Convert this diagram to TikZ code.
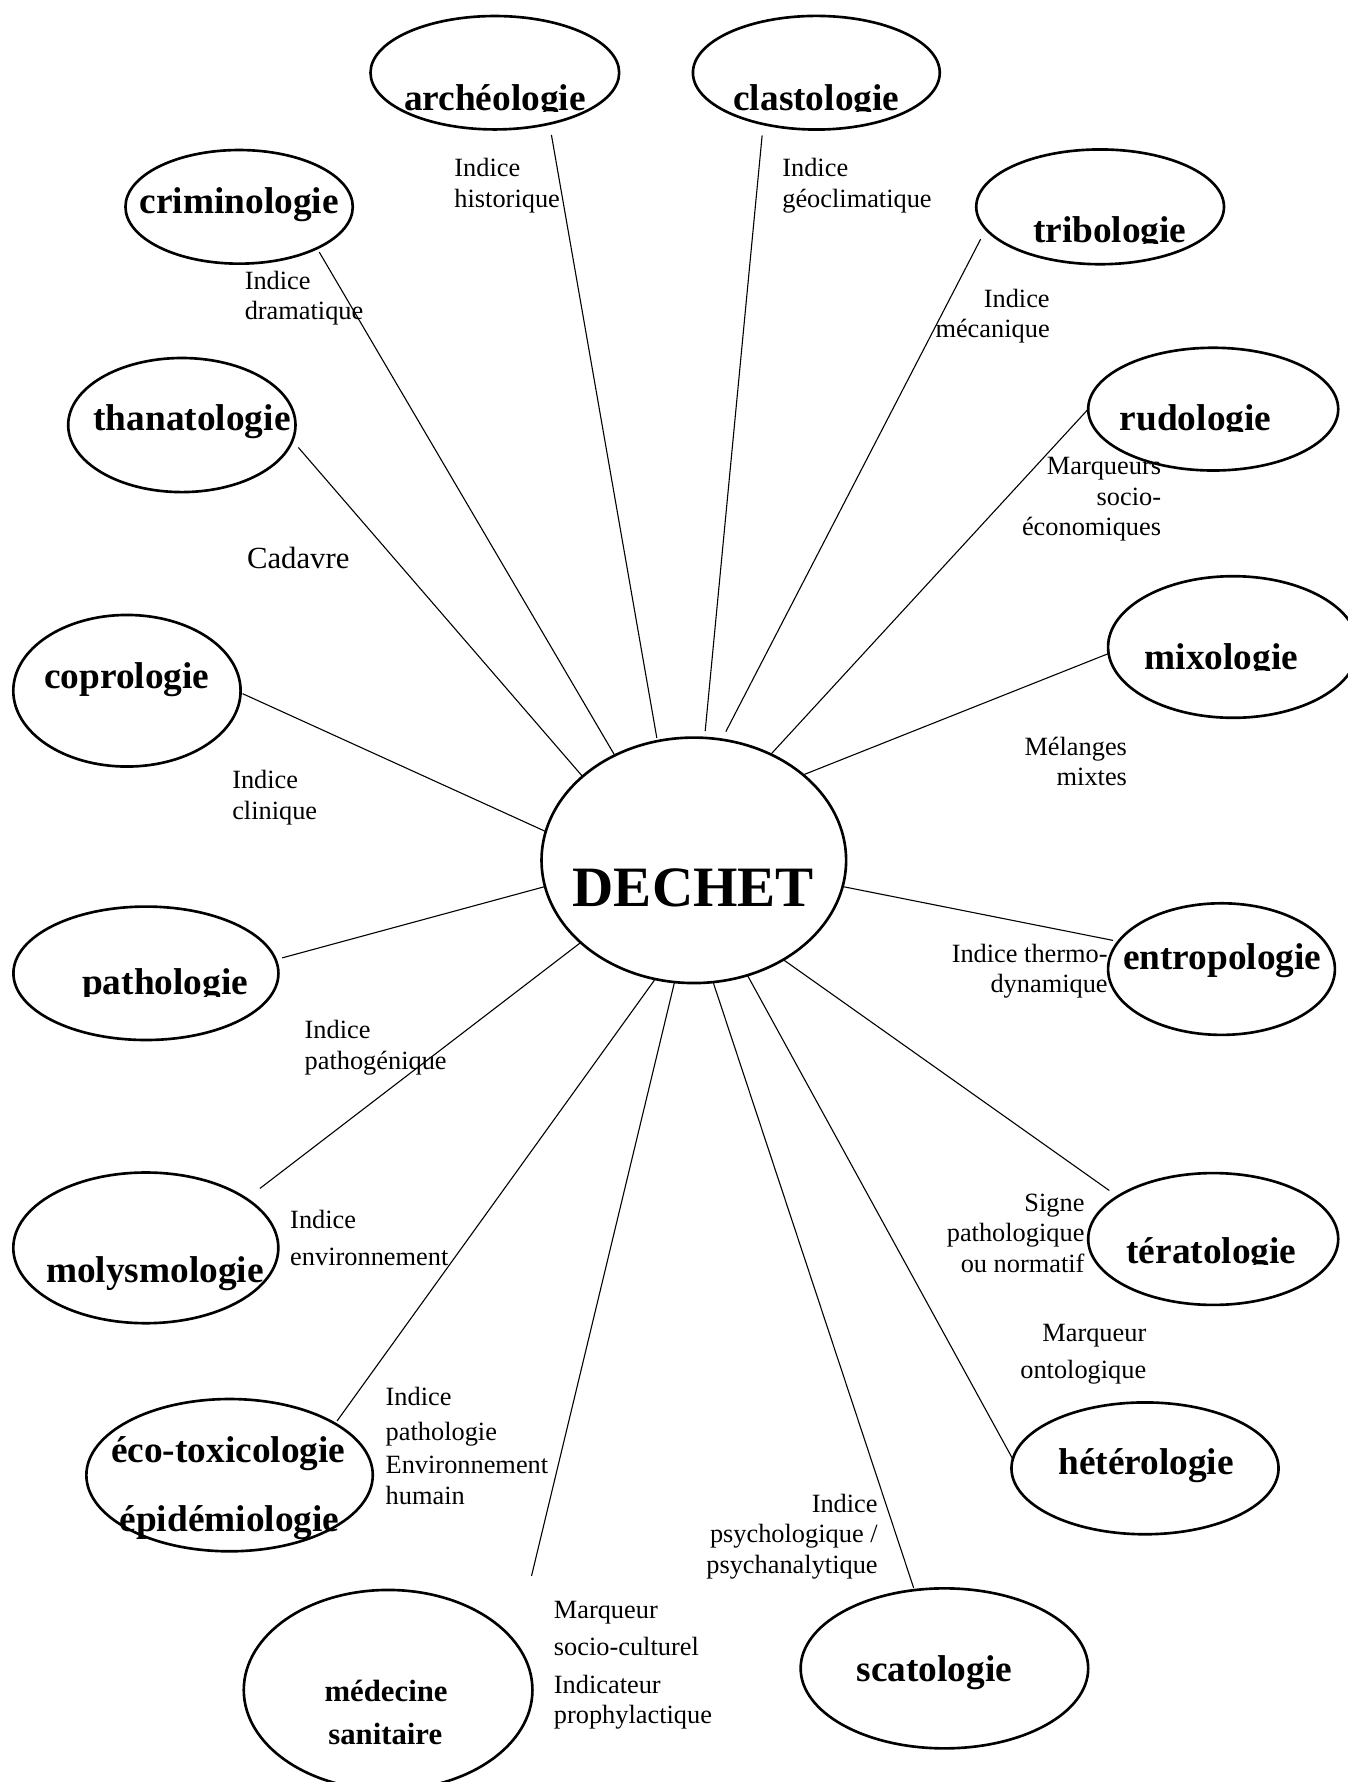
\documentclass[tikz,border=0pt]{standalone}
\usepackage{fontspec}
\setmainfont{Liberation Serif}
\usetikzlibrary{shapes.geometric}
\begin{document}
\begin{tikzpicture}[x=0.018186cm,y=-0.018186cm]
    \def\px{0.018186cm}
    \tikzset{
        field/.style 2 args={ellipse,draw,line width=1.2pt,inner sep=0pt,outer sep=0pt,
            minimum width=2*#1*\px,minimum height=2*#2*\px},
        fieldname/.style={font=\fontsize{17}{20}\selectfont\bfseries,inner sep=0pt},
        note/.style={font=\fontsize{12}{14}\selectfont,inner sep=0pt},
        link/.style={line width=0.5pt},}
    \useasboundingbox (0,0) rectangle (1186,1568);
    % ellipses: name / centre / radii
    \foreach \n/\x/\y/\a/\b in {arch/435.4/64/109.4/49.9, clas/718.3/64/108.6/50,
        crim/210.4/182/100/50, trib/968/182/109/50.5, than/160/374/100/59,
        rudo/1067.5/360/110/54, copr/111.7/607.8/100/66.7, mixo/1085/569.3/110/62.3,
        path/128.4/856.4/116.6/58.7, entr/1074.8/852.7/99.8/57.9,
        moly/128.3/1098/116.6/66.3, tera/1067.5/1090.2/110/58,
        hete/1007.5/1292/117.5/58, ecot/202/1298/126/67,
        scat/831/1468/126.5/70.4, mede/341.5/1487/127/88}
        \node[field={\a}{\b}] (\n) at (\x,\y) {};
    \node[field={134}{108}] (dechet) at (610.5,757) {};
    % names, some cut at the baseline
    \foreach \n/\x/\y/\c/\w in {arch/435.5/96.8/1/archéologie, clas/718.3/96.8/1/clastologie,
        crim/210.4/188/40/criminologie, trib/976.5/213.4/1/tribologie,
        than/169/379.2/40/thanatologie, rudo/1052/379/1/rudologie,
        copr/111.5/606.2/40/coprologie, mixo/1074.8/588.8/1/mixologie,
        path/145.3/875.4/1/pathologie, entr/1075.5/853.4/40/entropologie,
        moly/136.4/1128.5/40/molysmologie, tera/1066/1111.5/1/tératologie,
        hete/1008.4/1297.8/40/hétérologie, scat/822.2/1479.6/40/scatologie}{
        \begin{scope}
            \clip (\x-140,\y-45) rectangle (\x+140,\y+\c);
            \node[fieldname,anchor=base] (\n-t) at (\x,\y) {\w};
        \end{scope}}
    \node[fieldname,anchor=base] (ecot-t) at (200.8,1287) {éco-toxicologie};
    \node[fieldname,anchor=base] (ecot-u) at (202,1347.6) {épidémiologie};
    \node[fieldname,anchor=base,font=\fontsize{14}{17}\selectfont\bfseries] (mede-t) at (339.7,1497.2) {médecine};
    \begin{scope}
        \clip (200,1500) rectangle (480,1535.8);
        \node[fieldname,anchor=base,font=\fontsize{14}{17}\selectfont\bfseries] (mede-u) at (339,1535.3) {sanitaire};
    \end{scope}
    \node[anchor=base,inner sep=0pt,font=\fontsize{26}{30}\selectfont\bfseries] (dechet-t) at (610,797.7) {DECHET};
    % notes along the links
    \node[note,anchor=north west,align=left] (hist) at (399.5,139) {Indice\\historique};
    \node[note,anchor=north west,align=left] (geo) at (688,139) {Indice\\géoclimatique};
    \node[note,anchor=north west,align=left] (dram) at (215,238) {Indice\\dramatique};
    \node[note,anchor=north east,align=right] (meca) at (924,253.7) {Indice\\mécanique};
    \node[note,anchor=north east,align=right] (socio) at (1022,401.8) {Marqueurs\\socio-\\économiques};
    \node[note,anchor=base west,font=\fontsize{14}{17}\selectfont] (cadavre) at (217,500) {Cadavre};
    \node[note,anchor=north east,align=right] (melange) at (992,648) {Mélanges\\mixtes};
    \node[note,anchor=north west,align=left] (clin) at (204,677.5) {Indice\\clinique};
    \node[note,anchor=north east,align=right] (thermo) at (975,830) {Indice thermo-\\dynamique};
    \node[note,anchor=north west,align=left] (pathog) at (267.7,897.5) {Indice\\pathogénique};
    \node[note,anchor=north east,align=right] (signe) at (954.6,1050) {Signe\\pathologique\\ou normatif};
    \node[note,anchor=north west,align=left] (env) at (255,1064.7) {Indice\\[2.7pt]environnement};
    \node[note,anchor=north east,align=right] (onto) at (1009,1164.4) {Marqueur\\[3pt]ontologique};
    \node[note,anchor=north west,align=left] (humain) at (339,1220) {Indice\\[2pt]pathologie\\[1pt]Environnement\\humain};
    \node[note,anchor=north east,align=right] (psy) at (772.6,1314) {Indice\\psychologique /\\psychanalytique};
    \node[note,anchor=north west,align=left] (prophy) at (487,1408.4) {Marqueur\\[3pt]socio-culturel\\[3pt]Indicateur\\prophylactique};
    % links to DECHET: name / out angle / gap / in angle / gap
    \foreach \n/\o/\g/\i/\h in {arch/-43/10/107/3, clas/-136/10/85/6, crim/-28/4/127/0,
        trib/-169/10/77/8, than/-8/8/143/0, rudo/180/0/54/0, copr/-1/2/169/0,
        mixo/-177/0/38/0, path/6/6/-170/0, entr/165/5/-10/0, moly/26/15/-144/0,
        tera/156/9/-48/0, hete/176/0/-65/0, ecot/26/3/-108/0, scat/111/2/-81/0}
        \draw[link,shorten <=\g*\px,shorten >=\h*\px] (\n.\o) -- (dechet.\i);
    \coordinate (mede-end) at (467.7,1386.6);
    \draw[link] (mede-end) -- (dechet.-99);
\end{tikzpicture}
\end{document}
